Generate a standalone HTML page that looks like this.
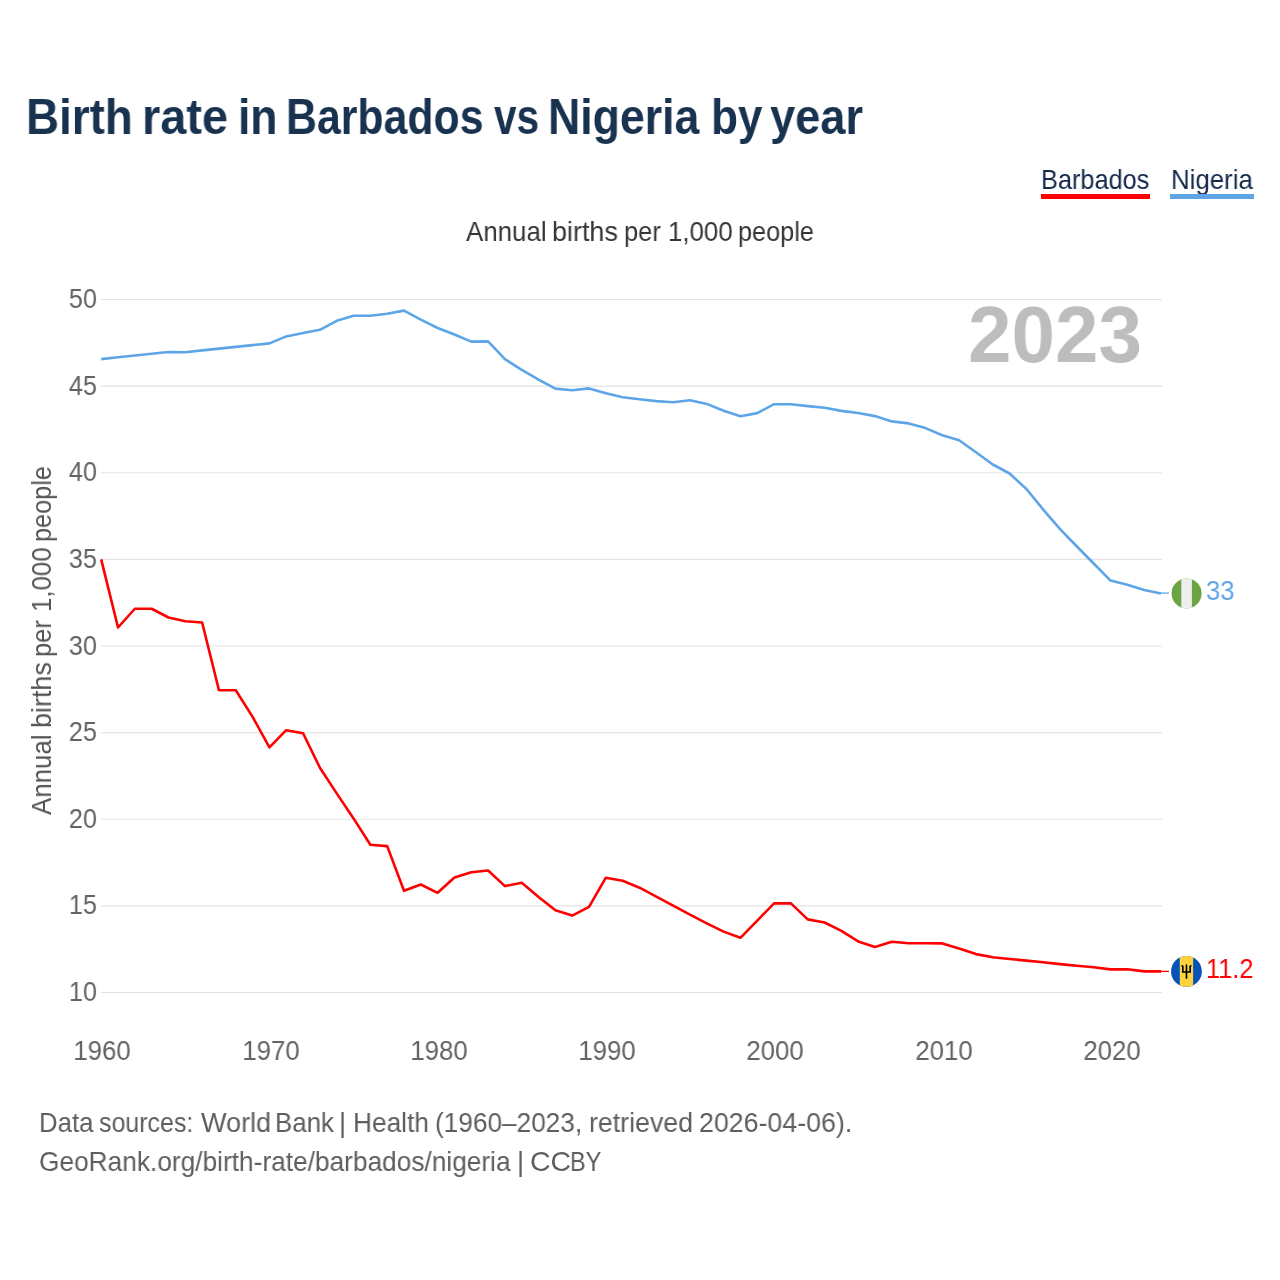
<!DOCTYPE html>
<html><head><meta charset="utf-8">
<style>
html,body{margin:0;padding:0;background:#fff;}
body{width:1280px;height:1280px;position:relative;overflow:hidden;font-family:"Liberation Sans",sans-serif;}
.t{position:absolute;white-space:nowrap;line-height:1;will-change:transform;}
.tw{font-size:49.5px;font-weight:bold;color:#18324f;transform-origin:0 0;}
.leg{top:166.2px;font-size:28px;color:#13294b;transform-origin:0 0;}
.sw{font-size:27.6px;color:#353535;transform-origin:0 0;}
.yw{font-size:27.6px;color:#555;transform-origin:0 0;}
#yr{left:968px;top:294.5px;transform:scaleX(0.977);font-size:80px;font-weight:bold;color:#bdbdbd;transform-origin:0 0;}
.yt{position:absolute;will-change:transform;left:0;width:97px;text-align:right;font-size:27px;line-height:30px;color:#636363;transform-origin:97px 50%;transform:scaleX(0.94);}
.xt{position:absolute;will-change:transform;top:1038px;width:120px;text-align:center;font-size:27px;line-height:27px;color:#636363;transform:scaleX(0.955);}
#ytitle{position:absolute;left:28px;top:815px;width:0;height:0;transform-origin:0 0;transform:rotate(-90deg);}
.ft{font-size:27.3px;color:#5e5e5e;transform-origin:0 0;}
.val{font-size:26px;transform-origin:0 0;}
</style></head><body>
<div id="title"><span class="t tw" style="left:26.13px;top:92.3px;transform:scaleX(0.9245)">Birth</span><span class="t tw" style="left:141.86px;top:92.3px;transform:scaleX(0.9477)">rate</span><span class="t tw" style="left:237.62px;top:92.3px;transform:scaleX(0.8947)">in</span><span class="t tw" style="left:286.30px;top:92.3px;transform:scaleX(0.8652)">Barbados</span><span class="t tw" style="left:494.40px;top:92.3px;transform:scaleX(0.8189)">vs</span><span class="t tw" style="left:547.99px;top:92.3px;transform:scaleX(0.9018)">Nigeria</span><span class="t tw" style="left:710.93px;top:92.3px;transform:scaleX(0.8889)">by</span><span class="t tw" style="left:770.09px;top:92.3px;transform:scaleX(0.9140)">year</span></div>
<div class="t leg" id="lb" style="left:1040.9px;transform:scaleX(0.904)">Barbados</div>
<div class="t leg" id="ln" style="left:1170.6px;transform:scaleX(0.922)">Nigeria</div>
<div style="position:absolute;left:1041px;top:194px;width:109px;height:5px;background:#ff0000"></div>
<div style="position:absolute;left:1170px;top:194px;width:84px;height:5px;background:#5ea5e8"></div>
<div id="sub"><span class="t sw" style="left:465.60px;top:217.5px;transform:scaleX(0.9381)">Annual</span><span class="t sw" style="left:552.12px;top:217.5px;transform:scaleX(0.9758)">births</span><span class="t sw" style="left:623.58px;top:217.5px;transform:scaleX(0.9231)">per</span><span class="t sw" style="left:667.93px;top:217.5px;transform:scaleX(0.9364)">1,000</span><span class="t sw" style="left:738.48px;top:217.5px;transform:scaleX(0.9160)">people</span></div>
<svg width="1280" height="1280" style="position:absolute;left:0;top:0">
<line x1="101" y1="299.50" x2="1162" y2="299.50" stroke="#e3e3e3" stroke-width="1.2"/>
<line x1="101" y1="386.12" x2="1162" y2="386.12" stroke="#e3e3e3" stroke-width="1.2"/>
<line x1="101" y1="472.75" x2="1162" y2="472.75" stroke="#e3e3e3" stroke-width="1.2"/>
<line x1="101" y1="559.38" x2="1162" y2="559.38" stroke="#e3e3e3" stroke-width="1.2"/>
<line x1="101" y1="646.00" x2="1162" y2="646.00" stroke="#e3e3e3" stroke-width="1.2"/>
<line x1="101" y1="732.62" x2="1162" y2="732.62" stroke="#e3e3e3" stroke-width="1.2"/>
<line x1="101" y1="819.25" x2="1162" y2="819.25" stroke="#e3e3e3" stroke-width="1.2"/>
<line x1="101" y1="905.88" x2="1162" y2="905.88" stroke="#e3e3e3" stroke-width="1.2"/>
<line x1="101" y1="992.50" x2="1162" y2="992.50" stroke="#e3e3e3" stroke-width="1.2"/>

<polyline points="101.20,359.10 118.02,357.30 134.84,355.50 151.67,353.80 168.49,352.00 185.31,352.20 202.13,350.40 218.96,348.60 235.78,346.90 252.60,345.10 269.42,343.40 286.24,336.40 303.07,333.00 319.89,329.80 336.71,320.80 353.53,315.80 370.36,315.80 387.18,313.75 404.00,310.60 420.82,319.70 437.64,328.00 454.47,334.50 471.29,341.60 488.11,341.40 504.93,359.20 521.76,369.80 538.58,379.70 555.40,388.60 572.22,390.20 589.04,388.40 605.87,393.30 622.69,397.20 639.51,399.20 656.33,401.10 673.16,402.30 689.98,400.30 706.80,403.90 723.62,410.80 740.44,416.25 757.27,413.10 774.09,404.20 790.91,404.20 807.73,406.10 824.56,407.80 841.38,410.90 858.20,413.00 875.02,416.10 891.84,421.40 908.67,423.40 925.49,428.10 942.31,435.20 959.13,440.20 975.96,452.30 992.78,464.50 1009.60,473.50 1026.42,489.00 1043.24,509.60 1060.07,529.20 1076.89,546.50 1093.71,563.50 1110.53,580.60 1127.36,584.75 1144.18,590.00 1161.00,593.50" fill="none" stroke="#5ea5e8" stroke-width="2.6" stroke-linejoin="round"/>
<polyline points="101.20,559.40 118.02,627.50 134.84,608.75 151.67,608.75 168.49,617.50 185.31,621.25 202.13,622.50 218.96,690.25 235.78,690.25 252.60,716.90 269.42,747.30 286.24,730.20 303.07,733.30 319.89,767.70 336.71,793.40 353.53,818.40 370.36,844.70 387.18,846.10 404.00,890.80 420.82,884.50 437.64,892.80 454.47,877.50 471.29,872.30 488.11,870.50 504.93,886.10 521.76,882.70 538.58,897.00 555.40,910.30 572.22,915.60 589.04,906.90 605.87,877.70 622.69,880.80 639.51,887.70 656.33,896.70 673.16,905.60 689.98,914.70 706.80,923.30 723.62,931.60 740.44,937.80 757.27,920.60 774.09,903.40 790.91,903.40 807.73,919.40 824.56,922.50 841.38,930.80 858.20,941.40 875.02,946.90 891.84,941.70 908.67,943.30 925.49,943.30 942.31,943.40 959.13,948.40 975.96,954.10 992.78,957.20 1009.60,959.00 1026.42,960.60 1043.24,962.25 1060.07,964.10 1076.89,965.70 1093.71,967.30 1110.53,969.40 1127.36,969.20 1144.18,971.40 1161.00,971.40" fill="none" stroke="#ff0000" stroke-width="2.6" stroke-linejoin="round"/>
<line x1="1160" y1="593.1" x2="1169" y2="593.1" stroke="#5ea5e8" stroke-width="1.3"/>
<line x1="1160" y1="971.4" x2="1169" y2="971.4" stroke="#ff0000" stroke-width="1.3"/>
<defs>
<clipPath id="cn"><circle cx="1186.6" cy="593.4" r="15"/></clipPath>
<clipPath id="cb"><circle cx="1186.45" cy="971.4" r="15.4"/></clipPath>
</defs>
<g clip-path="url(#cn)">
<rect x="1170" y="577" width="34" height="34" fill="#6aa443"/>
<rect x="1181.3" y="577" width="10.6" height="34" fill="#eeeeee"/>
</g>
<g clip-path="url(#cb)">
<rect x="1170" y="955" width="34" height="34" fill="#0553b6"/>
<rect x="1179.8" y="955" width="13.3" height="34" fill="#ffd33d"/>
<path d="M1186.47 963.7 L1187.3 965.3 L1187.3 971.3 L1189.3 971.3 L1189.3 966.3 L1190.1 965.0 L1191.9 965.4 L1191.0 967.0 L1191.0 972.8 L1187.3 972.8 L1187.3 978.7 L1185.65 978.7 L1185.65 972.8 L1182.0 972.8 L1182.0 967.0 L1181.1 965.4 L1182.85 965.0 L1183.65 966.3 L1183.65 971.3 L1185.65 971.3 L1185.65 965.3 Z" fill="#000"/>
</g>
</svg>
<div id="yr" class="t">2023</div>
<div class="yt" id="yt50" style="top:284.00px">50</div>
<div class="yt" id="yt45" style="top:370.62px">45</div>
<div class="yt" id="yt40" style="top:457.25px">40</div>
<div class="yt" id="yt35" style="top:543.88px">35</div>
<div class="yt" id="yt30" style="top:630.50px">30</div>
<div class="yt" id="yt25" style="top:717.12px">25</div>
<div class="yt" id="yt20" style="top:803.75px">20</div>
<div class="yt" id="yt15" style="top:890.38px">15</div>
<div class="yt" id="yt10" style="top:977.00px">10</div>

<div class="xt" id="xt1960" style="left:42.40px">1960</div>
<div class="xt" id="xt1970" style="left:210.62px">1970</div>
<div class="xt" id="xt1980" style="left:378.84px">1980</div>
<div class="xt" id="xt1990" style="left:547.07px">1990</div>
<div class="xt" id="xt2000" style="left:715.29px">2000</div>
<div class="xt" id="xt2010" style="left:883.51px">2010</div>
<div class="xt" id="xt2020" style="left:1051.73px">2020</div>

<div id="ytitle"><span class="t yw" style="left:0.20px;top:0px;transform:scaleX(0.9381)">Annual</span><span class="t yw" style="left:86.72px;top:0px;transform:scaleX(0.9758)">births</span><span class="t yw" style="left:158.18px;top:0px;transform:scaleX(0.9231)">per</span><span class="t yw" style="left:202.53px;top:0px;transform:scaleX(0.9364)">1,000</span><span class="t yw" style="left:273.08px;top:0px;transform:scaleX(0.9160)">people</span></div>
<div id="f1"><span class="t ft" style="left:38.61px;top:1109.2px;transform:scaleX(0.9429)">Data</span><span class="t ft" style="left:99.39px;top:1109.2px;transform:scaleX(0.9140)">sources:</span><span class="t ft" style="left:200.60px;top:1109.2px;transform:scaleX(0.9913)">World</span><span class="t ft" style="left:275.31px;top:1109.2px;transform:scaleX(0.9467)">Bank</span><span class="t ft" style="left:339.30px;top:1109.2px;transform:scaleX(1.0000)">|</span><span class="t ft" style="left:352.78px;top:1109.2px;transform:scaleX(0.9618)">Health</span><span class="t ft" style="left:435.04px;top:1109.2px;transform:scaleX(0.9600)">(1960–2023,</span><span class="t ft" style="left:588.52px;top:1109.2px;transform:scaleX(0.9798)">retrieved</span><span class="t ft" style="left:698.62px;top:1109.2px;transform:scaleX(0.9804)">2026-04-06).</span></div>
<div id="f2"><span class="t ft" style="left:38.84px;top:1148.0px;transform:scaleX(0.9622)">GeoRank.org/birth-rate/barbados/nigeria</span><span class="t ft" style="left:516.85px;top:1148.0px;transform:scaleX(1.0000)">|</span><span class="t ft" style="left:529.96px;top:1148.0px;transform:scaleX(1.0432)">CC</span><span class="t ft" style="left:570.28px;top:1148.0px;transform:scaleX(0.8588)">BY</span></div>
<div class="t val" id="v1" style="left:1205.7px;top:578.1px;font-size:27px;transform:scaleX(0.95);color:#5ea5e8">33</div>
<div class="t val" id="v2" style="left:1205.8px;top:955.6px;font-size:27px;transform:scaleX(0.94);color:#ff0000">11.2</div>
</body></html>
